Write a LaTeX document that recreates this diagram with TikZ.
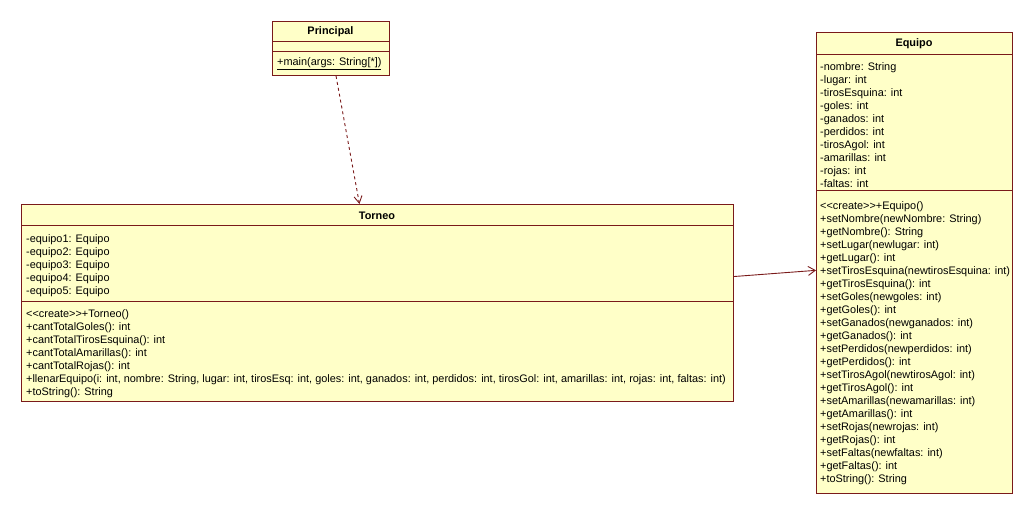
\documentclass[tikz,border=0pt]{standalone}
\usepackage{fontspec}
\setmainfont{Liberation Sans}[Ligatures=TeXOff]
\usepackage{tikz}
\usetikzlibrary{arrows.meta}
\definecolor{umlfill}{HTML}{FFFFC8}
\definecolor{umlline}{HTML}{7A1A1A}
\tikzset{
  classbox/.style={draw=umlline, fill=umlfill, line width=1pt, anchor=north west, inner sep=0pt},
  sep/.style={draw=umlline, line width=1pt},
  cname/.style={font=\fontsize{10.9}{13}\selectfont\bfseries, inner sep=0pt},
  members/.style={font=\fontsize{10.9}{13}\selectfont, align=left, anchor=north west, inner sep=0pt},
  dep/.style={draw=umlline, line width=0.9pt, dash pattern=on 3pt off 3pt, -{Straight Barb[length=7pt,width=8pt]}},
  assoc/.style={draw=umlline, line width=0.9pt, -{Straight Barb[length=7pt,width=9pt]}},
}

\begin{document}
\begin{tikzpicture}[x=1pt,y=-1pt]
  \useasboundingbox[fill=white] (0,0) rectangle (1033,510);
  % class boxes
  \node[classbox,minimum width=117pt,minimum height=54pt] (principal) at (272,21) {};
  \node[classbox,minimum width=712pt,minimum height=197pt] (torneo) at (21,204) {};
  \node[classbox,minimum width=196pt,minimum height=461pt] (equipo) at (816,32) {};
  % compartments
  \draw[sep] (272,42) -- (389,42) (272,52) -- (389,52);
  \draw[sep] (21,226) -- (733,226) (21,302) -- (733,302);
  \draw[sep] (816,55) -- (1012,55) (816,191) -- (1012,191);
  % names
  \node[cname] (principalname) at (330.5,31.5) {Principal};
  \node[cname] (torneoname) at (377,215.5) {Torneo};
  \node[cname] (equiponame) at (914,43.5) {Equipo};
  % members
  \node[members] (principalops) at (277,57) {\underline{+main(args: String[*])}};
  \node[members] (torneoattrs) at (26,234.5) {-equipo1: Equipo\\-equipo2: Equipo\\-equipo3: Equipo\\-equipo4: Equipo\\-equipo5: Equipo};
  \node[members] (torneoops) at (26,309.5) {<<create>>+Torneo()\\+cantTotalGoles(): int\\+cantTotalTirosEsquina(): int\\+cantTotalAmarillas(): int\\+cantTotalRojas(): int\\+llenarEquipo(i: int, nombre: String, lugar: int, tirosEsq: int, goles: int, ganados: int, perdidos: int, tirosGol: int, amarillas: int, rojas: int, faltas: int)\\+toString(): String};
  \node[members] (equipoattrs) at (820,62) {-nombre: String\\-lugar: int\\-tirosEsquina: int\\-goles: int\\-ganados: int\\-perdidos: int\\-tirosAgol: int\\-amarillas: int\\-rojas: int\\-faltas: int};
  \node[members] (equipoops) at (820,201.5) {<<create>>+Equipo()\\+setNombre(newNombre: String)\\+getNombre(): String\\+setLugar(newlugar: int)\\+getLugar(): int\\+setTirosEsquina(newtirosEsquina: int)\\+getTirosEsquina(): int\\+setGoles(newgoles: int)\\+getGoles(): int\\+setGanados(newganados: int)\\+getGanados(): int\\+setPerdidos(newperdidos: int)\\+getPerdidos(): int\\+setTirosAgol(newtirosAgol: int)\\+getTirosAgol(): int\\+setAmarillas(newamarillas: int)\\+getAmarillas(): int\\+setRojas(newrojas: int)\\+getRojas(): int\\+setFaltas(newfaltas: int)\\+getFaltas(): int\\+toString(): String};
  % connectors
  \draw[dep] (principal) -- (torneo);
  \draw[assoc] (torneo) -- (equipo);
\end{tikzpicture}
\end{document}
